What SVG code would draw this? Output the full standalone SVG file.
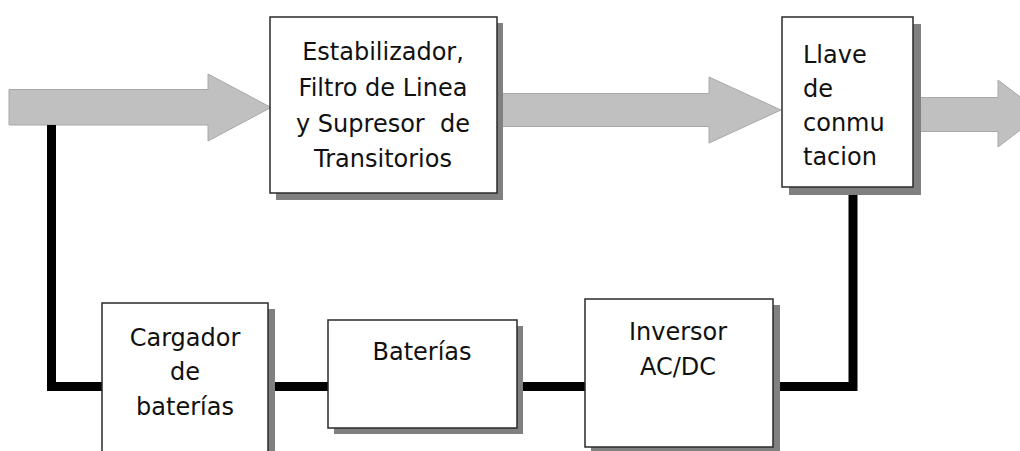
<svg xmlns="http://www.w3.org/2000/svg" width="1020" height="451" viewBox="0 0 1020 451">
<style>
.arrow{fill:#c0c0c0;stroke:#a8a8a8;stroke-width:1}
.wire{fill:none;stroke:#000;stroke-width:9;stroke-linejoin:miter}
.shadow{fill:#808080}
.box{fill:#fff;stroke:#2a2a2a;stroke-width:1.5}
.lbl{font-family:"DejaVu Sans","Verdana",sans-serif;font-size:24px;fill:#111;white-space:pre}
.c{text-anchor:middle}
</style>
<rect width="1020" height="451" fill="#fff"/>
<g id="connectors">
<polygon class="arrow" points="9,89.5 208,89.5 208,74 271,107.5 208,141 208,125 9,125"/>
<polygon class="arrow" points="497,93.5 709,93.5 709,77 781,110 709,143 709,126.5 497,126.5"/>
<polygon class="arrow" points="913,97.5 998,97.5 998,80 1042,113.5 998,147 998,131.5 913,131.5"/>
<polyline class="wire" points="51.5,125 51.5,386.5 102,386.5"/>
<line class="wire" x1="275" y1="386.5" x2="328" y2="386.5"/>
<line class="wire" x1="523" y1="386.5" x2="585" y2="386.5"/>
<polyline class="wire" points="780,386.5 853,386.5 853,194"/>
</g>
<g id="estabilizador">
<rect class="shadow" x="276" y="23" width="227" height="177"/>
<rect class="box" x="270" y="17" width="227" height="176"/>
<text class="lbl c" x="383" y="60">Estabilizador,</text>
<text class="lbl c" x="383" y="96">Filtro de Linea</text>
<text class="lbl c" x="383" y="132" xml:space="preserve">y Supresor  de</text>
<text class="lbl c" x="383" y="167">Transitorios</text>
</g>
<g id="llave">
<rect class="shadow" x="789" y="24" width="132" height="171"/>
<rect class="box" x="782" y="17" width="131" height="170"/>
<text class="lbl" x="803" y="63">Llave</text>
<text class="lbl" x="803" y="97">de</text>
<text class="lbl" x="803" y="131">conmu</text>
<text class="lbl" x="803" y="165">tacion</text>
</g>
<g id="cargador">
<rect class="shadow" x="108" y="309" width="167" height="150"/>
<rect class="box" x="102" y="303" width="166" height="155"/>
<text class="lbl c" x="185" y="346">Cargador</text>
<text class="lbl c" x="185" y="380">de</text>
<text class="lbl c" x="185" y="415">baterías</text>
</g>
<g id="baterias">
<rect class="shadow" x="334" y="326" width="189" height="108"/>
<rect class="box" x="328" y="320" width="189" height="108"/>
<text class="lbl c" x="422" y="360">Baterías</text>
</g>
<g id="inversor">
<rect class="shadow" x="591" y="305" width="189" height="150"/>
<rect class="box" x="585" y="299" width="188" height="148"/>
<text class="lbl c" x="678" y="340">Inversor</text>
<text class="lbl c" x="678" y="375">AC/DC</text>
</g>
</svg>
